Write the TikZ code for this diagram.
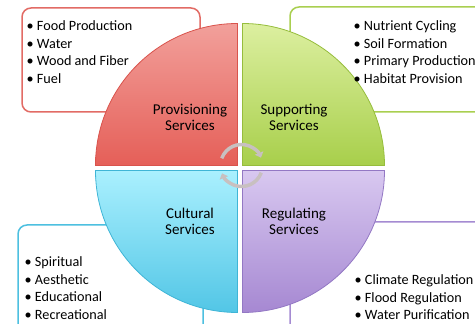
\documentclass[tikz,border=0pt]{standalone}
\usepackage{fontspec}
\setmainfont{Carlito}
\usetikzlibrary{arrows.meta}

\definecolor{provline}{HTML}{E26B65}
\definecolor{suppline}{HTML}{A9CF50}
\definecolor{cultline}{HTML}{4DC0E0}
\definecolor{reguline}{HTML}{A58BD2}
\definecolor{provtop}{HTML}{F2A09B}
\definecolor{provbot}{HTML}{E55F58}
\definecolor{provedge}{HTML}{D9534C}
\definecolor{supptop}{HTML}{DCEFA0}
\definecolor{suppbot}{HTML}{A8CF4B}
\definecolor{suppedge}{HTML}{96BD3C}
\definecolor{culttop}{HTML}{AAF0FE}
\definecolor{cultbot}{HTML}{52C6E6}
\definecolor{cultedge}{HTML}{3FB5D6}
\definecolor{regutop}{HTML}{D8C8F0}
\definecolor{regubot}{HTML}{A688D2}
\definecolor{reguedge}{HTML}{9378C4}
\definecolor{arrowgray}{HTML}{C8C0C0}

\begin{document}
\begin{tikzpicture}[x=1pt, y=1pt,
  listbox/.style={line width=1.5pt, rounded corners=9pt, fill=white},
  quad/.style={line width=0.8pt},
  lbl/.style={align=center, inner sep=0pt, font=\fontsize{15}{16}\selectfont},
  items/.style={anchor=north west, align=left, inner sep=0pt, font=\fontsize{14.2}{17.7}\selectfont},
  turn/.style={line width=3.5pt, draw=arrowgray, -{Triangle[width=9pt, length=5pt]}}]

\useasboundingbox (0,0) rectangle (475,324);
\clip (0,0) rectangle (475,324);

% boxes behind the circle
\draw[listbox, draw=provline] (22,212) rectangle (200,316);
\draw[listbox, draw=suppline] (290,212) rectangle (495,317);
\draw[listbox, draw=cultline] (18,-20) rectangle (203,99);
\draw[listbox, draw=reguline] (290,-20) rectangle (495,102);

% the four quarters
\shadedraw[quad, top color=provtop, bottom color=provbot, draw=provedge]
  (237.5,158.5) -- (95.5,158.5) arc (180:90:142) -- cycle;
\shadedraw[quad, top color=supptop, bottom color=suppbot, draw=suppedge]
  (242.5,158.5) -- (242.5,300.5) arc (90:0:142) -- cycle;
\shadedraw[quad, top color=culttop, bottom color=cultbot, draw=cultedge]
  (237.5,153.5) -- (95.5,153.5) arc (180:270:142) -- cycle;
\shadedraw[quad, top color=regutop, bottom color=regubot, draw=reguedge]
  (242.5,153.5) -- (384.5,153.5) arc (0:-90:142) -- cycle;

\node[lbl] (prov) at (190,207) {Provisioning\\Services};
\node[lbl] (supp) at (294,207) {Supporting\\Services};
\node[lbl] (cult) at (190,103) {Cultural\\Services};
\node[lbl] (regu) at (294,103) {Regulating\\Services};

\node[items] (provlist) at (26.5,303.5) {\textbullet\ Food Production\\\textbullet\ Water\\\textbullet\ Wood and Fiber\\\textbullet\ Fuel};
\node[items] (supplist) at (353.5,303.5) {\textbullet\ Nutrient Cycling\\\textbullet\ Soil Formation\\\textbullet\ Primary Production\\\textbullet\ Habitat Provision};
\node[items] (cultlist) at (24.5,67.5) {\textbullet\ Spiritual\\\textbullet\ Aesthetic\\\textbullet\ Educational\\\textbullet\ Recreational};
\node[items] (regulist) at (354.5,49.5) {\textbullet\ Climate Regulation\\\textbullet\ Flood Regulation\\\textbullet\ Water Purification};

% cycle arrows
\coordinate (hub) at (241.5,158.5);
\draw[turn] (hub) ++(160:21) arc (160:22:21);
\draw[turn] (hub) ++(-20:21) arc (-20:-158:21);
\end{tikzpicture}
\end{document}
